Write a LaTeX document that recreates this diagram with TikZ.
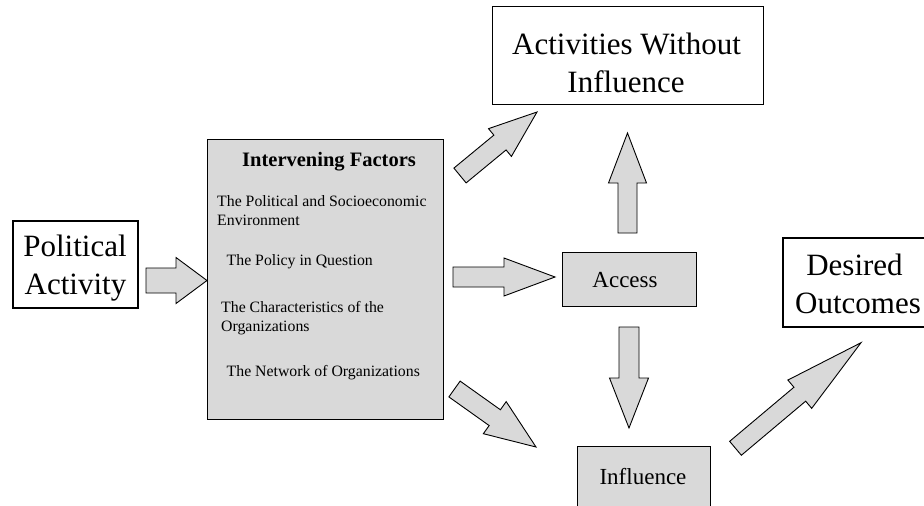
\documentclass[tikz,border=0pt]{standalone}
\usepackage{fontspec}
\setmainfont{Liberation Serif}
\usetikzlibrary{calc}
\definecolor{boxgray}{HTML}{D9D9D9}
\tikzset{
  plainbox/.style={draw=black, line width=1pt, fill=white, inner sep=0pt},
  heavybox/.style={draw=black, line width=2.2pt, fill=white, inner sep=0pt},
  graybox/.style={draw=black, line width=1pt, fill=boxgray, inner sep=0pt},
  barrow/.style={draw=black, line width=0.9pt, fill=boxgray, line join=miter},
  bigtext/.style={font=\fontsize{31}{37}\selectfont, anchor=base, inner sep=0pt},
  midtext/.style={font=\fontsize{23}{27}\selectfont, anchor=base, inner sep=0pt},
  smalltext/.style={font=\fontsize{15.8}{18}\selectfont, anchor=base west, inner sep=0pt},
  titletext/.style={font=\fontsize{20.5}{24}\selectfont\bfseries, anchor=base west, inner sep=0pt},
}
% block arrow: tail, tip, shaft half-width, head half-width, head length
\newcommand\blockarrow[5]{%
  \coordinate (#1-#2-hb) at ($(#2)!#5!(#1)$);
  \draw[barrow] ($(#1)!#3!90:(#2)$) -- ($(#1-#2-hb)!#3!90:(#2)$)
    -- ($(#1-#2-hb)!#4!90:(#2)$) -- (#2)
    -- ($(#1-#2-hb)!#4!-90:(#2)$) -- ($(#1-#2-hb)!#3!-90:(#2)$)
    -- ($(#1)!#3!-90:(#2)$) -- cycle;
}
\begin{document}
\begin{tikzpicture}[x=1pt, y=-1pt]
\useasboundingbox (0,0) rectangle (924,506);
\clip (0,0) rectangle (924,506);
\fill[white] (0,0) rectangle (924,506);

% boxes
\node[heavybox, minimum width=125pt, minimum height=87pt] (pa) at (75.5,264.5) {};
\node[graybox, minimum width=236pt, minimum height=280pt] (if) at (325,279) {};
\node[plainbox, minimum width=271pt, minimum height=98pt] (awi) at (627.5,55) {};
\node[graybox, minimum width=134pt, minimum height=54pt] (acc) at (629,279) {};
\node[heavybox, minimum width=157pt, minimum height=89pt] (do) at (861.5,282.5) {};
\node[graybox, minimum width=133pt, minimum height=84pt] (inf) at (643.5,488) {};

% box texts
\node[bigtext] (pa1) at (75,256.5) {Political};
\node[bigtext] (pa2) at (75.5,294) {Activity};
\node[bigtext] (awi1) at (626.5,54) {Activities Without};
\node[bigtext] (awi2) at (626,92.5) {Influence};
\node[bigtext] (do1) at (854.5,275) {Desired};
\node[bigtext] (do2) at (858,313) {Outcomes};
\node[midtext] (acc1) at (625,287) {Access};
\node[midtext] (inf1) at (643,484) {Influence};

\node[titletext] (ift) at (242,166) {Intervening Factors};
\node[smalltext] (f1a) at (217,206) {The Political and Socioeconomic};
\node[smalltext] (f1b) at (217,225) {Environment};
\node[smalltext] (f2) at (226.5,265) {The Policy in Question};
\node[smalltext] (f3a) at (221,312.5) {The Characteristics of the};
\node[smalltext] (f3b) at (221,331) {Organizations};
\node[smalltext] (f4) at (226.5,376) {The Network of Organizations};

% arrow ends
\coordinate (a1t) at (146,280.5);   \coordinate (a1h) at (207,280.5);
\coordinate (a2t) at (453,277);     \coordinate (a2h) at (555,277);
\coordinate (a3t) at (627.5,233);   \coordinate (a3h) at (627.5,133);
\coordinate (a4t) at (629,327);     \coordinate (a4h) at (629,428);
\coordinate (a5t) at (460,175.5);   \coordinate (a5h) at (537,112);
\coordinate (a6t) at (454.5,389);   \coordinate (a6h) at (536,447);
\coordinate (a7t) at (735.5,448.3); \coordinate (a7h) at (861,342.7);

\blockarrow{a1t}{a1h}{12.5pt}{23pt}{31pt}
\blockarrow{a2t}{a2h}{10pt}{19pt}{51pt}
\blockarrow{a3t}{a3h}{9.5pt}{19pt}{50pt}
\blockarrow{a4t}{a4h}{10pt}{19.5pt}{50pt}
\blockarrow{a5t}{a5h}{9.6pt}{18pt}{48pt}
\blockarrow{a6t}{a6h}{9.7pt}{19.7pt}{50.6pt}
\blockarrow{a7t}{a7h}{9.1pt}{18.5pt}{80pt}
\end{tikzpicture}
\end{document}
